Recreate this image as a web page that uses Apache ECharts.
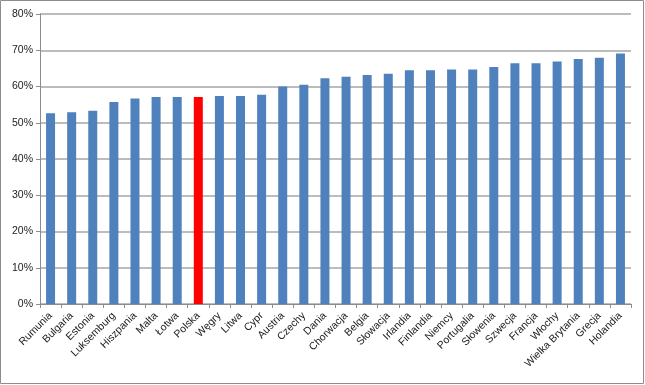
<!DOCTYPE html>
<html>
<head>
<meta charset="utf-8">
<script src="https://cdn.jsdelivr.net/npm/echarts@6/dist/echarts.min.js"></script>
<style>
html,body{margin:0;padding:0;background:#fff;}
#c{width:645px;height:385px;}
</style>
</head>
<body>
<div id="c"></div>
<script>
const categories = ["Rumunia","Bulgaria","Estonia","Luksemburg","Hiszpania","Malta","Łotwa","Polska","Węgry","Litwa","Cypr","Austria","Czechy","Dania","Chorwacja","Belgia","Słowacja","Irlandia","Finlandia","Niemcy","Portugalia","Słowenia","Szwecja","Francja","Włochy","Wielka Brytania","Grecja","Holandia"];
const values = [52.6,52.9,53.3,55.7,56.7,57.1,57.1,57.1,57.4,57.4,57.7,60.0,60.5,62.3,62.7,63.2,63.5,64.5,64.5,64.7,64.7,65.4,66.4,66.4,66.9,67.6,67.9,69.1];
const highlight = "Polska";
const yTicks = [0,10,20,30,40,50,60,70,80];

const chart = echarts.init(document.getElementById('c'), null, {renderer:'canvas'});
chart.setOption({
  animation:false,
  backgroundColor:'#fff',
  graphic:[{type:'rect',shape:{x:0.5,y:0.5,width:643,height:383},style:{fill:'none',stroke:'#8c8c8c',lineWidth:1},silent:true}],
  grid:{left:40,right:14,top:14,bottom:81,containLabel:false},
  xAxis:{
    type:'category',
    data:categories,
    boundaryGap:true,
    axisLine:{show:true,lineStyle:{color:'#8c8c8c',width:1}},
    axisTick:{show:true,alignWithLabel:false,length:4,lineStyle:{color:'#8c8c8c'}},
    axisLabel:{interval:0,rotate:45,fontFamily:'Liberation Sans, Arial, sans-serif',fontSize:10.5,color:'#222',margin:10}
  },
  yAxis:{
    type:'value',
    min:yTicks[0],max:yTicks[yTicks.length-1],interval:10,
    axisLine:{show:true,lineStyle:{color:'#8c8c8c',width:1}},
    axisTick:{show:true,length:4,lineStyle:{color:'#8c8c8c'}},
    splitLine:{show:true,lineStyle:{color:'#a6a6a6',width:1.5}},
    axisLabel:{formatter:v=>v+'%',fontFamily:'Liberation Sans, Arial, sans-serif',fontSize:10.5,color:'#222',margin:7}
  },
  series:[{
    type:'bar',
    data:values.map((v,i)=>({value:v,itemStyle:{color:categories[i]===highlight?'#ff0000':'#4f81bd'}})),
    barWidth:9
  }]
});
</script>
</body>
</html>
